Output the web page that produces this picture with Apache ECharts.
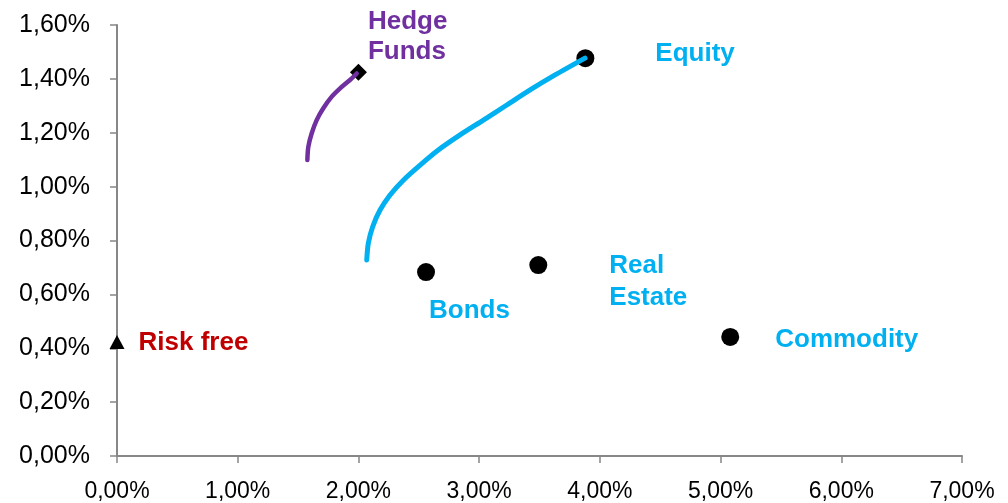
<!DOCTYPE html>
<html>
<head>
<meta charset="utf-8">
<script src="https://cdn.jsdelivr.net/npm/echarts@6/dist/echarts.min.js"></script>
<style>
  html, body { margin: 0; padding: 0; background: #fff; }
  #chart { width: 1008px; height: 503px; }
</style>
</head>
<body>
<div id="chart"></div>
<script>
// Risk (x, %) and return (y, %) of each asset class
var assetNames = ['Equity', 'Bonds', 'Real\nEstate', 'Commodity'];
var assetRisk = [3.88, 2.56, 3.49, 5.08];
var assetReturn = [1.477, 0.683, 0.709, 0.442];

var riskFree = [0.0, 0.423];
var hedgeFunds = [2.0, 1.425];

// Efficient frontier without hedge funds (cyan curve)
var frontierRisk = [2.069, 2.082, 2.118, 2.179, 2.262, 2.372, 2.511, 2.662, 2.842, 3.035, 3.229, 3.422, 3.615, 3.877];
var frontierReturn = [0.728, 0.790, 0.851, 0.913, 0.969, 1.024, 1.080, 1.136, 1.192, 1.247, 1.303, 1.359, 1.411, 1.477];

// Frontier including hedge funds (purple curve)
var hedgeRisk = [1.577, 1.585, 1.613, 1.654, 1.709, 1.779, 1.848, 1.930, 1.986];
var hedgeReturn = [1.099, 1.148, 1.198, 1.247, 1.291, 1.334, 1.365, 1.396, 1.420];

var yTicks = { min: 0, max: 1.6, step: 0.2 };
var xTicks = { min: 0, max: 7, step: 1 };

function pct(v) { return v.toFixed(2).replace('.', ',') + '%'; }
function zip(a, b) { return a.map(function (v, i) { return [v, b[i]]; }); }

var CYAN = '#00B0F0', PURPLE = '#7030A0', RED = '#C00000', AXIS = '#878787';
var FONT = 'Liberation Sans, Arial, sans-serif';
var labelFont = { fontFamily: FONT, fontWeight: 'bold', fontSize: 26 };

// label offsets for each asset marker (relative to the right edge of the symbol)
var assetLabelOffsets = [[61, -4], [-6, 39], [62, 17], [36, 3]];

var assetData = assetNames.map(function (n, i) {
  return {
    value: [assetRisk[i], assetReturn[i]],
    name: n,
    label: Object.assign({
      show: true, position: 'right', distance: 0,
      offset: assetLabelOffsets[i], formatter: n, color: CYAN, lineHeight: 32
    }, labelFont)
  };
});

var chart = echarts.init(document.getElementById('chart'));
chart.setOption({
  animation: false,
  backgroundColor: '#fff',
  grid: { left: 117, right: 46, top: 25, bottom: 47 },
  xAxis: {
    type: 'value', min: xTicks.min, max: xTicks.max, interval: xTicks.step,
    axisLine: { show: true, onZero: false, lineStyle: { color: AXIS, width: 2 } },
    axisTick: { show: true, length: 7, lineStyle: { color: AXIS, width: 1.5 } },
    splitLine: { show: false },
    axisLabel: { formatter: pct, color: '#000', fontSize: 23, fontFamily: FONT, margin: 24 }
  },
  yAxis: {
    type: 'value', min: yTicks.min, max: yTicks.max, interval: yTicks.step,
    axisLine: { show: true, onZero: false, lineStyle: { color: AXIS, width: 2 } },
    axisTick: { show: true, length: 7, lineStyle: { color: AXIS, width: 1.5 } },
    splitLine: { show: false },
    axisLabel: { formatter: pct, color: '#000', fontSize: 25, fontFamily: FONT, margin: 27 }
  },
  series: [
    {
      type: 'line', smooth: 0.3, symbol: 'none',
      data: zip(frontierRisk, frontierReturn),
      lineStyle: { color: CYAN, width: 5, cap: 'round', join: 'round' }
    },
    {
      type: 'line', smooth: 0.3, symbol: 'none',
      data: zip(hedgeRisk, hedgeReturn),
      lineStyle: { color: PURPLE, width: 4.5, cap: 'round', join: 'round' }
    },
    {
      type: 'scatter', symbol: 'circle', symbolSize: 18,
      itemStyle: { color: '#000', opacity: 1 },
      data: assetData
    },
    {
      type: 'scatter', symbol: 'triangle', symbolSize: [15, 14],
      itemStyle: { color: '#000', opacity: 1 },
      data: [{
        value: riskFree, name: 'Risk free',
        label: Object.assign({ show: true, position: 'right', distance: 0, offset: [14, 1], formatter: 'Risk free', color: RED }, labelFont)
      }]
    },
    {
      type: 'scatter', symbol: 'diamond', symbolSize: [17, 17],
      itemStyle: { color: '#000', opacity: 1 },
      data: [{
        value: hedgeFunds, name: 'Hedge Funds',
        label: Object.assign({ show: true, position: 'right', distance: 0, offset: [1, -35], formatter: 'Hedge\nFunds', color: PURPLE, lineHeight: 30 }, labelFont)
      }]
    }
  ]
});
</script>
</body>
</html>
